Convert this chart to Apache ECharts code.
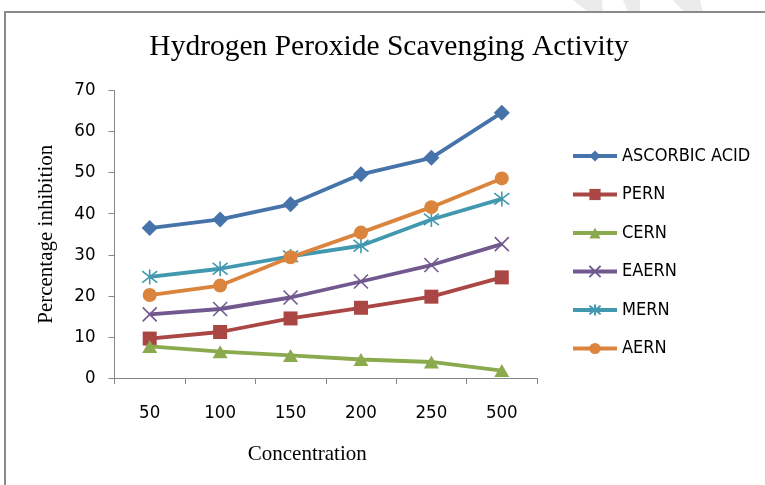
<!DOCTYPE html>
<html>
<head>
<meta charset="utf-8">
<script src="https://cdn.jsdelivr.net/npm/echarts@6/dist/echarts.min.js"></script>
<style>
html,body{margin:0;padding:0;background:#fff;}
#chart{width:765px;height:485px;}
</style>
</head>
<body>
<div id="chart"></div>
<script>
// ---- data ----
var categories = ['50', '100', '150', '200', '250', '500'];
var seriesNames = ['ASCORBIC ACID', 'PERN', 'CERN', 'EAERN', 'MERN', 'AERN'];
var ascorbicAcid = [36.5, 38.6, 42.3, 49.6, 53.6, 64.6];
var pern = [9.6, 11.2, 14.5, 17.1, 19.8, 24.5];
var cern = [7.7, 6.4, 5.5, 4.5, 3.9, 1.8];
var eaern = [15.5, 16.8, 19.6, 23.5, 27.5, 32.6];
var mern = [24.6, 26.6, 29.6, 32.2, 38.6, 43.6];
var aern = [20.2, 22.5, 29.4, 35.4, 41.6, 48.6];
var yTicks = [0, 10, 20, 30, 40, 50, 60, 70];

var values = [ascorbicAcid, pern, cern, eaern, mern, aern];
var colors = ['#4673AA', '#AA4643', '#8BAA4E', '#71588F', '#4198AF', '#DB843D'];
var symbols = [
  'diamond',
  'rect',
  'triangle',
  'path://M0,0L10,10M10,0L0,10',
  'path://M0,0L10,10M10,0L0,10M5,-1.5L5,11.5',
  'circle'
];
var symbolSizes = [16, 14, [15, 13], 14, 15, 14];

var sansFont = "'DejaVu Sans Condensed', 'Liberation Sans', Arial, sans-serif";
var serifFont = "'Liberation Serif', 'Times New Roman', serif";

var series = seriesNames.map(function (name, i) {
  var isStroke = (i === 3 || i === 4);
  return {
    name: name,
    type: 'line',
    data: values[i],
    symbol: symbols[i],
    symbolSize: symbolSizes[i],
    showAllSymbol: true,
    silent: true,
    lineStyle: { color: colors[i], width: 3.8 },
    itemStyle: {
      color: isStroke ? 'rgba(0,0,0,0)' : colors[i],
      borderColor: colors[i],
      borderWidth: isStroke ? 1.6 : 0
    },
    emphasis: { disabled: true },
    z: 2 + i
  };
});

var chart = echarts.init(document.getElementById('chart'), null, { renderer: 'canvas' });
chart.setOption({
  animation: false,
  backgroundColor: '#ffffff',
  title: {
    text: 'Hydrogen Peroxide Scavenging Activity',
    left: 389,
    textAlign: 'center',
    top: 32,
    padding: 0,
    textStyle: { fontFamily: serifFont, fontSize: 29.5, fontWeight: 'normal', color: '#000' }
  },
  grid: { left: 114.5, right: 228, top: 90.5, bottom: 107, containLabel: false },
  legend: {
    orient: 'vertical',
    left: 571,
    top: 146,
    padding: 0,
    itemWidth: 44,
    itemHeight: 14,
    itemGap: 18.5,
    selectedMode: false,
    lineStyle: { width: 4 },
    textStyle: { fontFamily: sansFont, fontSize: 18, color: '#000', lineHeight: 20 },
    data: seriesNames
  },
  xAxis: {
    type: 'category',
    data: categories,
    boundaryGap: true,
    name: 'Concentration',
    nameLocation: 'middle',
    nameGap: 66,
    nameTextStyle: { fontFamily: serifFont, fontSize: 21, color: '#000', padding: [0, 37, 0, 0] },
    axisLine: { show: true, lineStyle: { color: '#868686', width: 1 } },
    axisTick: { show: true, interval: 0, length: 6, alignWithLabel: false, lineStyle: { color: '#868686' } },
    axisLabel: { fontFamily: sansFont, fontSize: 18.5, color: '#000', margin: 26, interval: 0 },
    splitLine: { show: false }
  },
  yAxis: {
    type: 'value',
    min: yTicks[0],
    max: yTicks[yTicks.length - 1],
    interval: 10,
    name: 'Percentage inhibition',
    nameLocation: 'middle',
    nameGap: 58,
    nameTextStyle: { fontFamily: serifFont, fontSize: 21, color: '#000' },
    axisLine: { show: true, lineStyle: { color: '#868686', width: 1 } },
    axisTick: { show: true, length: 6, lineStyle: { color: '#868686' } },
    axisLabel: { fontFamily: sansFont, fontSize: 18.5, color: '#000', margin: 19 },
    splitLine: { show: false }
  },
  graphic: [
    { type: 'polygon', silent: true, z: -1, shape: { points: [[573, 0], [602, 0], [603, 12], [588, 12]] }, style: { fill: '#ebebeb' } },
    { type: 'polygon', silent: true, z: -1, shape: { points: [[623, 0], [640, 0], [640, 12], [628, 12]] }, style: { fill: '#ebebeb' } },
    { type: 'polygon', silent: true, z: -1, shape: { points: [[673, 0], [700, 0], [703, 12], [684, 12]] }, style: { fill: '#ebebeb' } },
    { type: 'rect', silent: true, z: -1, shape: { x: 5, y: 12, width: 800, height: 500 }, style: { fill: 'none', stroke: '#8a8a8a', lineWidth: 2 } }
  ],
  series: series
});
</script>
</body>
</html>
